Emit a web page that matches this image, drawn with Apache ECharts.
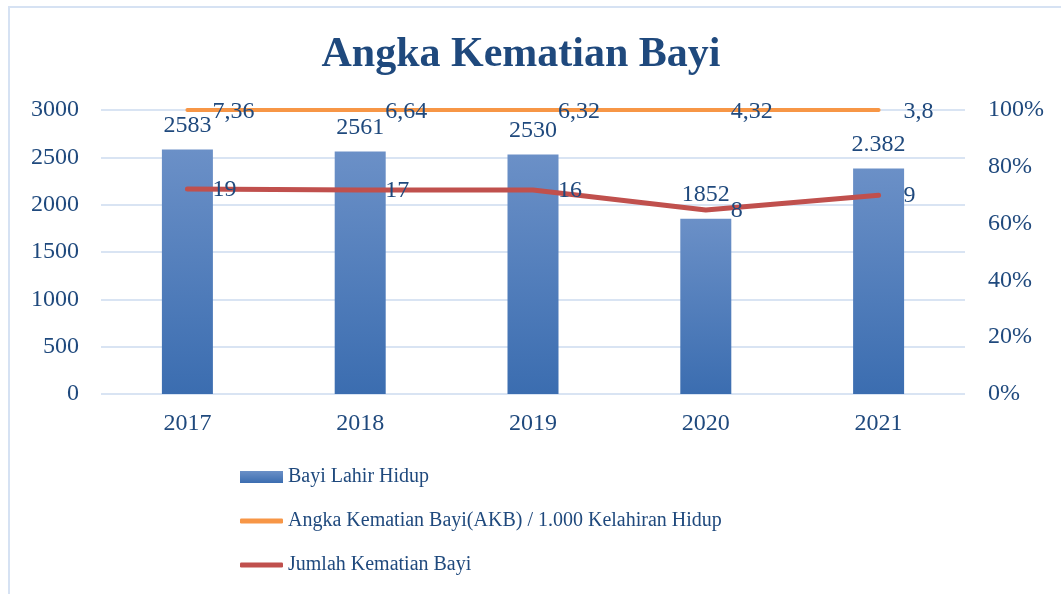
<!DOCTYPE html>
<html>
<head>
<meta charset="utf-8">
<script src="https://cdn.jsdelivr.net/npm/echarts@6/dist/echarts.min.js"></script>
<style>
html,body{margin:0;padding:0;background:#fff;}
#c{width:1061px;height:594px;}
</style>
</head>
<body>
<div id="c"></div>
<script>
// ---- data ----
const years = ['2017', '2018', '2019', '2020', '2021'];
const bayiLahirHidup = [2583, 2561, 2530, 1852, 2382];
const bayiLahirHidupLabels = ['2583', '2561', '2530', '1852', '2.382'];
const akb = [7.36, 6.64, 6.32, 4.32, 3.8];
const akbLabels = ['7,36', '6,64', '6,32', '4,32', '3,8'];
const jumlahKematian = [19, 17, 16, 8, 9];
// where the red line is drawn on the secondary (percent) axis
const jumlahKematianPos = [0.722, 0.718, 0.718, 0.648, 0.70];
const leftTicks = ['0', '500', '1000', '1500', '2000', '2500', '3000'];
const rightTicks = ['0%', '20%', '40%', '60%', '80%', '100%'];

const FONT = 'Liberation Serif';
const TXT = '#1f497d';
const GRID = '#d9e4f3';

const chart = echarts.init(document.getElementById('c'), null, {renderer: 'canvas'});
chart.setOption({
  animation: false,
  backgroundColor: '#ffffff',
  textStyle: {fontFamily: FONT},
  graphic: [{
    type: 'rect', silent: true,
    shape: {x: 9, y: 7, width: 1200, height: 800},
    style: {fill: 'none', stroke: '#d6e2f3', lineWidth: 2}
  }],
  title: {
    text: 'Angka Kematian Bayi',
    left: 521, top: 34, textAlign: 'center', padding: 0,
    textStyle: {fontFamily: FONT, fontWeight: 'bold', fontSize: 42, color: TXT}
  },
  legend: [
    {orient: 'vertical', left: 240, top: 467, padding: 0, itemWidth: 43, itemHeight: 12, itemGap: 0,
     data: [{name: 'Bayi Lahir Hidup', icon: 'rect'}],
     textStyle: {fontFamily: FONT, fontSize: 20, color: TXT}},
    {orient: 'vertical', left: 240, top: 511, padding: 0, itemWidth: 43, itemHeight: 5, itemGap: 0,
     data: [{name: 'Angka Kematian Bayi(AKB) / 1.000 Kelahiran Hidup', icon: 'roundRect'}],
     textStyle: {fontFamily: FONT, fontSize: 20, color: TXT}},
    {orient: 'vertical', left: 240, top: 555, padding: 0, itemWidth: 43, itemHeight: 5, itemGap: 0,
     data: [{name: 'Jumlah Kematian Bayi', icon: 'roundRect'}],
     textStyle: {fontFamily: FONT, fontSize: 20, color: TXT}}
  ],
  grid: {left: 101, right: 96, top: 110, bottom: 200, containLabel: false},
  xAxis: {
    type: 'category', data: years,
    axisLine: {show: false}, axisTick: {show: false},
    axisLabel: {fontFamily: FONT, fontSize: 24, color: TXT, margin: 18}
  },
  yAxis: [{
    type: 'value', min: 0, max: 3000, interval: 500,
    axisLine: {show: false}, axisTick: {show: false},
    axisLabel: {fontFamily: FONT, fontSize: 24, color: TXT, margin: 22,
      formatter: v => leftTicks[Math.round(v / 500)]},
    splitLine: {lineStyle: {color: GRID, width: 2}}
  }, {
    type: 'value', min: 0, max: 1, interval: 0.2, position: 'right',
    axisLine: {show: false}, axisTick: {show: false},
    axisLabel: {fontFamily: FONT, fontSize: 24, color: TXT, margin: 23, align: 'left',
      formatter: v => rightTicks[Math.round(v * 5)]},
    splitLine: {show: false}
  }],
  series: [{
    name: 'Bayi Lahir Hidup', type: 'bar', barWidth: 51,
    data: bayiLahirHidup,
    itemStyle: {color: new echarts.graphic.LinearGradient(0, 0, 0, 1, [
      {offset: 0, color: '#6b90c7'}, {offset: 1, color: '#3b6db0'}])},
    label: {show: true, position: 'top', distance: 12, fontFamily: FONT, fontSize: 24, color: TXT,
      formatter: p => bayiLahirHidupLabels[p.dataIndex]},
    z: 2
  }, {
    name: 'Angka Kematian Bayi(AKB) / 1.000 Kelahiran Hidup', type: 'line', yAxisIndex: 1,
    data: akb.map(v => Math.min(v, 1)),
    symbol: 'circle', symbolSize: 2, showSymbol: true, clip: false,
    itemStyle: {color: '#f79646'},
    lineStyle: {color: '#f79646', width: 4, cap: 'round'},
    label: {show: true, position: 'right', distance: 24, offset: [0, 2], fontFamily: FONT, fontSize: 24, color: TXT,
      formatter: p => akbLabels[p.dataIndex]},
    z: 3
  }, {
    name: 'Jumlah Kematian Bayi', type: 'line', yAxisIndex: 1,
    data: jumlahKematianPos,
    symbol: 'circle', symbolSize: 2, showSymbol: true,
    itemStyle: {color: '#c0504d'},
    lineStyle: {color: '#c0504d', width: 5, cap: 'round', join: 'round'},
    label: {show: true, position: 'right', distance: 24, offset: [0, 1], fontFamily: FONT, fontSize: 24, color: TXT,
      formatter: p => String(jumlahKematian[p.dataIndex])},
    z: 4
  }]
});
</script>
</body>
</html>
